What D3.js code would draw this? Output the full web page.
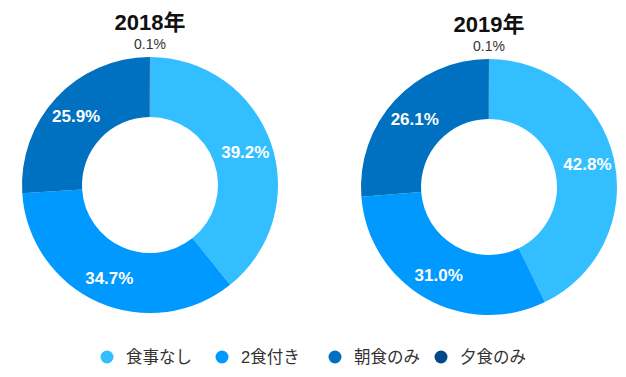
<!DOCTYPE html>
<html>
<head>
<meta charset="utf-8">
<script src="https://cdn.jsdelivr.net/npm/d3@7"></script>
<style>
body { margin: 0; background: #fff; }
text { font-family: "Liberation Sans", "Noto Sans CJK JP", sans-serif; }
</style>
</head>
<body>
<div id="chart"></div>
<script>
var categories = ['食事なし', '2食付き', '朝食のみ', '夕食のみ'];
var years = ['2018年', '2019年'];
var values2018 = [39.2, 34.7, 25.9, 0.1];
var values2019 = [42.8, 31.0, 26.1, 0.1];
var colors = ['#33bfff', '#0099ff', '#0070c0', '#004a8c'];

var svg = d3.select('#chart').append('svg')
	.attr('width', 626)
	.attr('height', 377);

var pie = d3.pie().sort(null).value(function(d){ return d; });
var outerR = 128, innerR = 68;
var arc = d3.arc().innerRadius(innerR).outerRadius(outerR);
var labelArc = d3.arc().innerRadius(101).outerRadius(101);

function drawDonut(cx, cy, title, values){
	var g = svg.append('g').attr('transform', 'translate(' + cx + ',' + cy + ')');
	var arcs = pie(values);

	g.selectAll('path')
		.data(arcs)
		.enter()
		.append('path')
		.attr('d', arc)
		.attr('fill', function(d, i){ return colors[i]; });

	g.selectAll('text.lbl')
		.data(arcs.filter(function(d){ return d.value >= 1; }))
		.enter()
		.append('text')
		.attr('class', 'lbl')
		.attr('transform', function(d){ return 'translate(' + labelArc.centroid(d) + ')'; })
		.attr('text-anchor', 'middle')
		.attr('dy', '0.36em')
		.attr('fill', '#fff')
		.attr('font-weight', 'bold')
		.attr('font-size', 17)
		.text(function(d){ return d.value.toFixed(1) + '%'; });

	// tiny slice gets its label outside, above the top
	arcs.filter(function(d){ return d.value < 1; }).forEach(function(d){
		g.append('text')
			.attr('x', 0)
			.attr('y', -outerR - 8)
			.attr('text-anchor', 'middle')
			.attr('fill', '#333')
			.attr('font-size', 14)
			.text(d.value.toFixed(1) + '%');
	});

	g.append('text')
		.attr('x', 0)
		.attr('y', -outerR - 27)
		.attr('text-anchor', 'middle')
		.attr('fill', '#111')
		.attr('font-weight', 'bold')
		.attr('font-size', 22)
		.text(title);
}

drawDonut(150, 185, years[0], values2018);
drawDonut(489, 187, years[1], values2019);

// legend
var legendX = [107, 222, 335, 441];
var legend = svg.selectAll('g.legend')
	.data(categories)
	.enter()
	.append('g')
	.attr('class', 'legend')
	.attr('transform', function(d, i){ return 'translate(' + legendX[i] + ',357)'; });

legend.append('circle')
	.attr('r', 6.5)
	.attr('fill', function(d, i){ return colors[i]; });

legend.append('text')
	.attr('x', 19)
	.attr('dy', '0.36em')
	.attr('fill', '#333')
	.attr('font-size', 16.5)
	.text(function(d){ return d; });
</script>
</body>
</html>
